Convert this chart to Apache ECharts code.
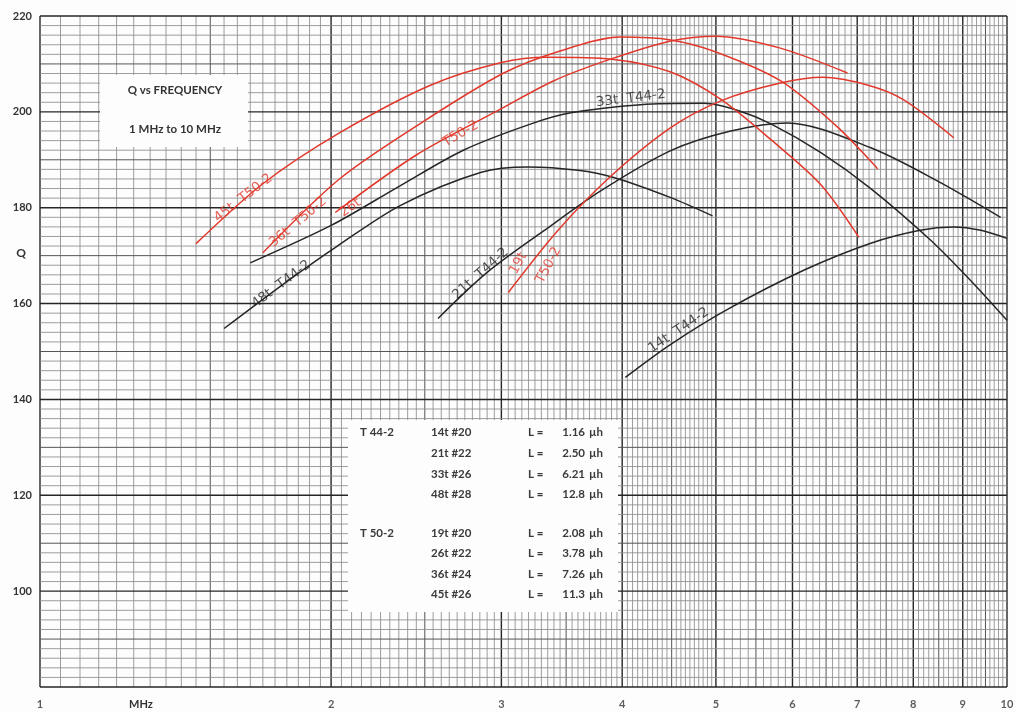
<!DOCTYPE html>
<html>
<head>
<meta charset="utf-8">
<title>Q vs Frequency</title>
<script src="https://cdn.jsdelivr.net/npm/echarts@6/dist/echarts.min.js"></script>
<style>
  html, body { margin: 0; padding: 0; background: #fff; }
  #chart { width: 1016px; height: 713px; }
</style>
</head>
<body>
<div id="chart"></div>
<script>
// ---- Measured Q versus frequency (MHz) ----
// T 44-2 toroids (black)
const t44_14t_freq = [4.03, 4.49, 5.14, 6.17, 7.23, 8.13, 8.8, 9.4, 10.0];
const t44_14t_q    = [144.6, 151.5, 158.8, 167.0, 172.6, 175.3, 176.0, 175.3, 173.6];
const t44_21t_freq = [2.58, 2.9, 3.32, 3.8, 4.49, 5.18, 5.93, 7.23, 8.47, 9.85];
const t44_21t_q    = [156.9, 166.5, 175.2, 183.5, 191.9, 196.0, 197.7, 192.5, 185.6, 178.0];
const t44_33t_freq = [1.65, 2.0, 2.34, 2.74, 3.22, 3.54, 4.18, 4.86, 5.27, 5.7, 6.42, 7.23, 8.35, 9.2, 10.0];
const t44_33t_q    = [168.5, 176.3, 184.2, 192.0, 197.5, 199.8, 201.5, 201.8, 200.3, 197.5, 191.5, 184.0, 173.1, 164.5, 156.5];
const t44_48t_freq = [1.55, 1.8, 2.03, 2.36, 2.86, 3.2, 3.6, 3.92, 4.49, 4.96];
const t44_48t_q    = [154.8, 164.6, 172.0, 180.5, 187.4, 188.5, 187.8, 186.3, 182.1, 178.3];
// T 50-2 toroids (red)
const t50_19t_freq = [3.05, 3.43, 3.89, 4.49, 5.06, 5.83, 6.45, 7.2, 7.82, 8.81];
const t50_19t_q    = [162.3, 175.2, 186.5, 196.7, 202.3, 206.0, 207.2, 205.5, 202.5, 194.6];
const t50_26t_freq = [2.02, 2.45, 2.97, 3.4, 3.89, 4.49, 5.0, 5.83, 6.84];
const t50_26t_q    = [179.0, 191.0, 200.2, 206.5, 211.0, 214.8, 215.8, 213.3, 208.1];
const t50_36t_freq = [1.7, 2.04, 2.47, 3.01, 3.45, 3.98, 4.49, 5.0, 5.83, 6.69, 7.35];
const t50_36t_q    = [170.6, 186.0, 197.5, 208.0, 212.7, 215.6, 215.0, 212.5, 206.5, 196.7, 188.1];
const t50_45t_freq = [1.45, 1.7, 2.04, 2.53, 3.0, 3.35, 3.9, 4.49, 5.06, 5.7, 6.42, 7.03];
const t50_45t_q    = [172.5, 185.0, 195.6, 205.5, 210.3, 211.4, 211.0, 208.3, 202.6, 194.2, 184.8, 173.8];

// Axis tick labels
const freqTickLabels = [1, 2, 3, 4, 5, 6, 7, 8, 9, 10];
const qTickLabels = [100, 120, 140, 160, 180, 200, 220];

// Winding table
const coreNames = ['T 44-2', 'T 50-2'];
const t44Windings = ['14t #20', '21t #22', '33t #26', '48t #28'];
const t44Inductance = ['1.16', '2.50', '6.21', '12.8'];
const t50Windings = ['19t #20', '26t #22', '36t #24', '45t #26'];
const t50Inductance = ['2.08', '3.78', '7.26', '11.3'];

// Hand-written curve names: text, anchor [MHz, Q], slant in degrees
const curveNotes = [
  { text: '45t  T50-2', at: [1.623, 182.0], angle: 38, color: 'red' },
  { text: '36t  T50-2', at: [1.849, 177.0], angle: 40, color: 'red' },
  { text: '26t',        at: [2.094, 180.0], angle: 35, color: 'red' },
  { text: 'T50-2',      at: [2.722, 195.4], angle: 30, color: 'red' },
  { text: '19t',        at: [3.125, 168.4], angle: 62, color: 'red' },
  { text: 'T50-2',      at: [3.357, 168.0], angle: 62, color: 'red' },
  { text: '48t  T44-2', at: [1.776, 164.0], angle: 37, color: 'black' },
  { text: '21t  T44-2', at: [2.855, 166.2], angle: 42, color: 'black' },
  { text: '14t  T44-2', at: [4.576, 154.4], angle: 34, color: 'black' },
  { text: '33t  T44-2', at: [4.083, 202.8], angle: 7,  color: 'black' }
];

const Q_MIN = 80, Q_MAX = 220;
const INK = { red: '#e2382b', black: '#262626' };

// Graph-paper ruling: fine steps of 0.05 MHz up to 5, 0.1 MHz above; Q every 2
const vRules = [];
for (let i = 0; i <= 80; i++) vRules.push(+(1 + i * 0.05).toFixed(2));
for (let i = 1; i <= 50; i++) vRules.push(+(5 + i * 0.1).toFixed(1));
const hRules = [];
for (let q = Q_MIN; q <= Q_MAX; q += 2) hRules.push(q);

const ruleStyle = [
  { stroke: '#8c8c8c', lineWidth: 0.85 },
  { stroke: '#555555', lineWidth: 1.0 },
  { stroke: '#262626', lineWidth: 1.4 }
];
function vWeight(f) {
  if (Math.abs(f - Math.round(f)) < 1e-6) return 2;
  if (Math.abs(f * 2 - Math.round(f * 2)) < 1e-6) return 1;
  return 0;
}
function hWeight(q) {
  if (q % 20 === 0) return 2;
  if (q % 10 === 0) return 1;
  return 0;
}

const pairs = (f, q) => f.map((v, i) => [v, q[i]]);

function curve(name, f, q, color) {
  return {
    name, type: 'line', data: pairs(f, q), smooth: 0.3, showSymbol: false,
    symbol: 'none', z: 3, clip: false,
    lineStyle: { color: INK[color], width: 1.5 }
  };
}

const chart = echarts.init(document.getElementById('chart'), null, { renderer: 'canvas' });

const labelFont = { fontFamily: 'Lato, "Open Sans", sans-serif', fontSize: 11, fontWeight: 'bold', color: '#333' };
const tableFont = { fontFamily: 'Lato, "Open Sans", sans-serif', fontSize: 11.5, fontWeight: 'bold', fill: '#3a3a3a' };

// Table layout
const tableX = 348, tableY = 420, tableW = 270, tableH = 192;
const rowY = [433, 454, 475, 495, 534, 554, 575, 595];
const tableTexts = [];
const groups = [[t44Windings, t44Inductance], [t50Windings, t50Inductance]];
groups.forEach((g, gi) => {
  tableTexts.push({ type: 'text', z: 11, left: 360, top: rowY[gi * 4] - 7,
    style: Object.assign({ text: coreNames[gi] }, tableFont) });
  g[0].forEach((w, i) => {
    const y = rowY[gi * 4 + i] - 7;
    tableTexts.push({ type: 'text', z: 11, left: 431, top: y, style: Object.assign({ text: w }, tableFont) });
    tableTexts.push({ type: 'text', z: 11, left: 528, top: y, style: Object.assign({ text: 'L =' }, tableFont) });
    tableTexts.push({ type: 'text', z: 11, x: 585, y: y, style: Object.assign({ text: g[1][i], textAlign: 'right' }, tableFont) });
    tableTexts.push({ type: 'text', z: 11, left: 589, top: y, style: Object.assign({ text: 'µh' }, tableFont) });
  });
});

const option = {
  animation: false,
  backgroundColor: '#fdfdfd',
  grid: { left: 40, right: 9, top: 16, bottom: 26 },
  xAxis: {
    type: 'log', logBase: 10, min: 1, max: 10,
    axisLine: { show: false }, axisTick: { show: false },
    axisLabel: { show: false }, splitLine: { show: false }
  },
  yAxis: {
    type: 'value', min: Q_MIN, max: Q_MAX, interval: 20,
    axisLine: { show: false }, axisTick: { show: false }, splitLine: { show: false },
    axisLabel: Object.assign({
      margin: 8,
      formatter: v => (qTickLabels.indexOf(v) >= 0 ? String(v) : '')
    }, labelFont)
  },
  graphic: [
    { type: 'rect', z: 10, shape: { x: 100, y: 75, width: 148, height: 72 }, style: { fill: '#fdfdfd' } },
    { type: 'text', z: 11, x: 175, y: 90, style: { text: 'Q vs FREQUENCY', textAlign: 'center', textVerticalAlign: 'middle',
      fontFamily: 'Lato, "Open Sans", sans-serif', fontSize: 11.5, fontWeight: 'bold', fill: '#333' } },
    { type: 'text', z: 11, x: 175, y: 129, style: { text: '1 MHz to 10 MHz', textAlign: 'center', textVerticalAlign: 'middle',
      fontFamily: 'Lato, "Open Sans", sans-serif', fontSize: 11.5, fontWeight: 'bold', fill: '#333' } },
    { type: 'rect', z: 10, shape: { x: tableX, y: tableY, width: tableW, height: tableH }, style: { fill: '#fdfdfd' } },
    ...tableTexts,
    { type: 'text', z: 11, x: 141, y: 704, style: { text: 'MHz', textAlign: 'center', textVerticalAlign: 'middle',
      fontFamily: 'Lato, "Open Sans", sans-serif', fontSize: 11, fontWeight: 'bold', fill: '#333' } },
    { type: 'text', z: 11, x: 21, y: 253, style: { text: 'Q', textAlign: 'center', textVerticalAlign: 'middle',
      fontFamily: 'Lato, "Open Sans", sans-serif', fontSize: 12, fontWeight: 'bold', fill: '#333' } }
  ],
  series: [
    // vertical ruling
    {
      type: 'custom', z: 1, silent: true, clip: false,
      data: vRules.map(f => [f, Q_MIN]),
      encode: { x: 0, y: 1 },
      renderItem: (params, api) => {
        const f = api.value(0);
        const a = api.coord([f, Q_MIN]), b = api.coord([f, Q_MAX]);
        return { type: 'line', shape: { x1: a[0], y1: a[1], x2: b[0], y2: b[1] }, style: ruleStyle[vWeight(f)] };
      }
    },
    // horizontal ruling
    {
      type: 'custom', z: 1, silent: true, clip: false,
      data: hRules.map(q => [1, q]),
      encode: { x: 0, y: 1 },
      renderItem: (params, api) => {
        const q = api.value(1);
        const a = api.coord([1, q]), b = api.coord([10, q]);
        return { type: 'line', shape: { x1: a[0], y1: a[1], x2: b[0], y2: b[1] }, style: ruleStyle[hWeight(q)] };
      }
    },
    curve('T44-2 14t', t44_14t_freq, t44_14t_q, 'black'),
    curve('T44-2 21t', t44_21t_freq, t44_21t_q, 'black'),
    curve('T44-2 33t', t44_33t_freq, t44_33t_q, 'black'),
    curve('T44-2 48t', t44_48t_freq, t44_48t_q, 'black'),
    curve('T50-2 19t', t50_19t_freq, t50_19t_q, 'red'),
    curve('T50-2 26t', t50_26t_freq, t50_26t_q, 'red'),
    curve('T50-2 36t', t50_36t_freq, t50_36t_q, 'red'),
    curve('T50-2 45t', t50_45t_freq, t50_45t_q, 'red'),
    // frequency tick labels under the axis
    {
      type: 'scatter', z: 5, silent: true, clip: false,
      symbol: 'circle', symbolSize: 1, itemStyle: { color: 'rgba(0,0,0,0)' },
      data: freqTickLabels.map(v => [v, Q_MIN]),
      label: Object.assign({ show: true, position: 'bottom', distance: 11,
        formatter: p => String(p.value[0]) }, labelFont)
    },
    // hand-written curve names
    {
      type: 'scatter', z: 6, silent: true, clip: false,
      symbol: 'circle', symbolSize: 1, itemStyle: { color: 'rgba(0,0,0,0)' },
      data: curveNotes.map(n => ({
        value: n.at,
        label: { show: true, position: 'inside', rotate: n.angle, formatter: n.text,
          color: INK[n.color], fontFamily: '"DejaVu Sans", sans-serif', fontSize: 13.5 }
      }))
    }
  ]
};

chart.setOption(option);
</script>
</body>
</html>
